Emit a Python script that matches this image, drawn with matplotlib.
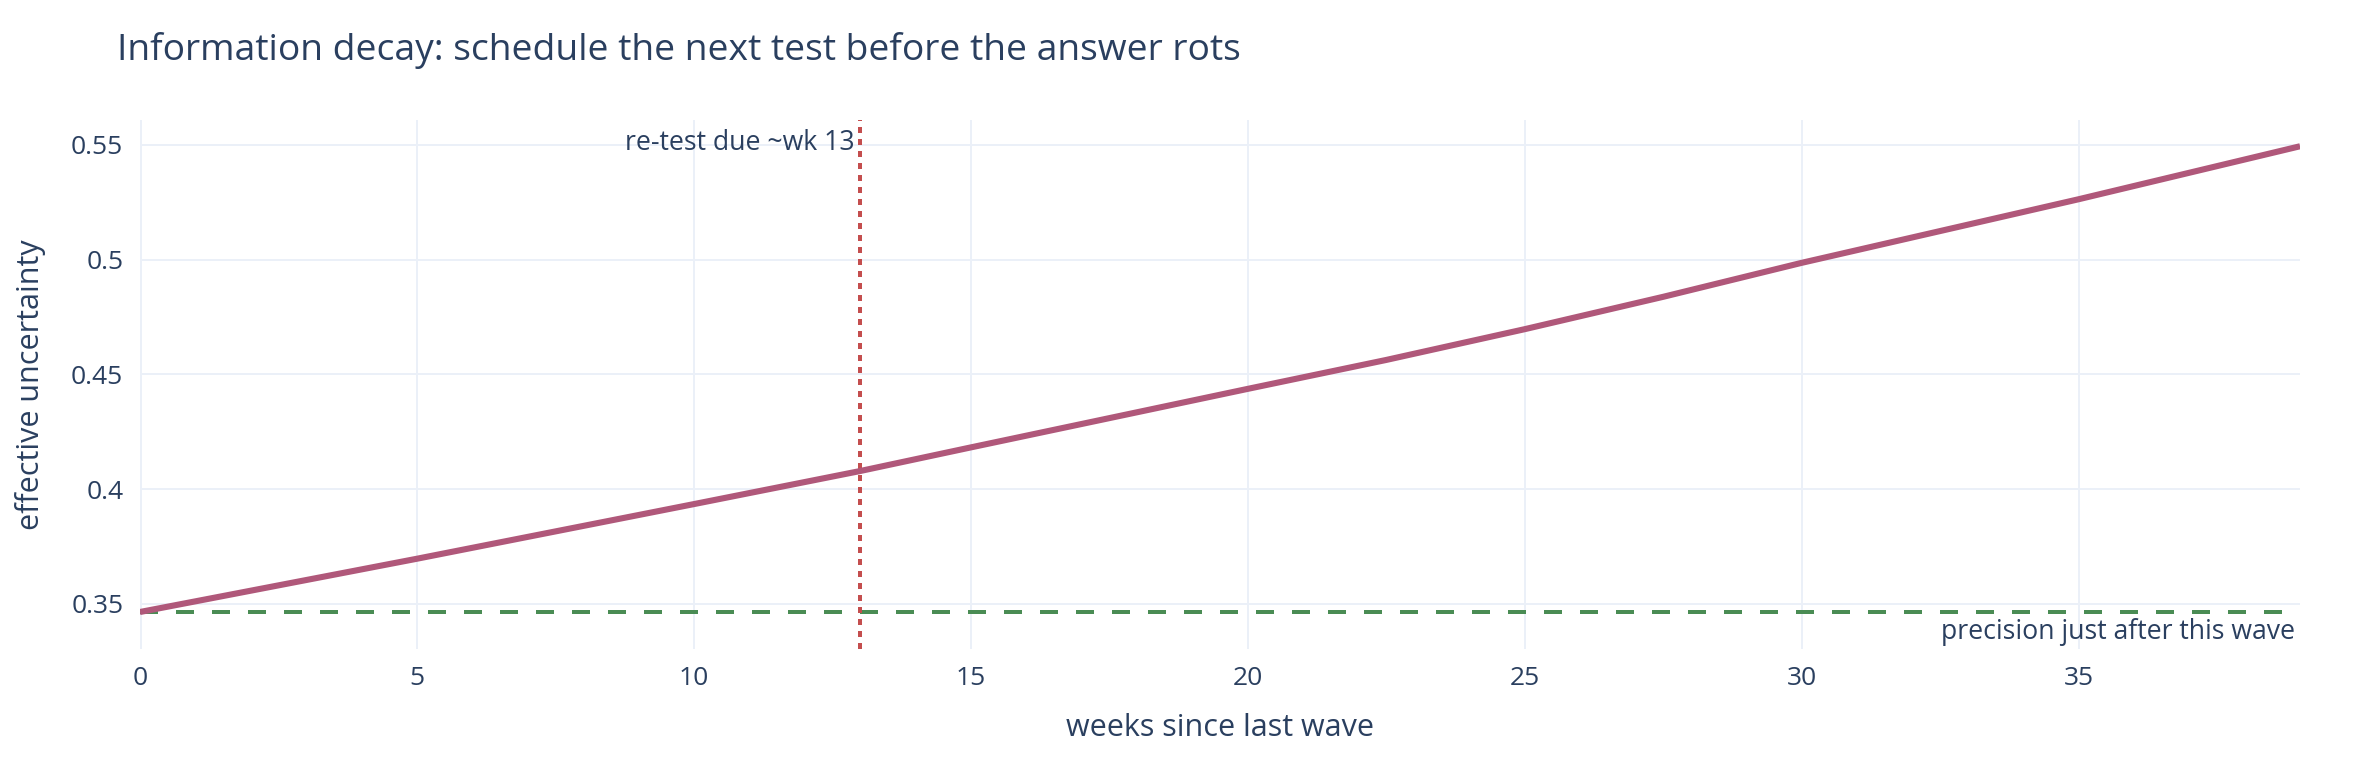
import matplotlib
matplotlib.use("Agg")
import matplotlib.pyplot as plt

# weeks since the last wave and the effective uncertainty
weeks = [0, 5, 10, 13, 15, 20, 22.5, 25, 27.5, 30, 35, 39]
uncertainty = [0.3465, 0.3697, 0.3935, 0.4079, 0.4182, 0.4437, 0.4563, 0.4697, 0.4838, 0.4986, 0.5263, 0.5494]

baseline = 0.3465      # precision just after this wave
retest_week = 13

x_ticks = [0, 5, 10, 15, 20, 25, 30, 35]
y_ticks = [0.35, 0.4, 0.45, 0.5, 0.55]
y_tick_labels = ["0.35", "0.4", "0.45", "0.5", "0.55"]

text_col = "#2a3f5f"
grid_col = "#ebf0f8"

plt.rcParams["font.family"] = ["Open Sans", "DejaVu Sans"]

fig = plt.figure(figsize=(11.8, 3.8), dpi=200)
ax = fig.add_axes([0.0593, 0.1455, 0.9153, 0.6962])

ax.plot(weeks, uncertainty, color="#b0587a", linewidth=2.2, solid_capstyle="butt", zorder=3)
ax.axhline(baseline, color="#4a8c54", linewidth=1.44, dashes=(4.5, 4.5), zorder=2)
ax.axvline(retest_week, color="#c44e4e", linewidth=1.44, dashes=(1.5, 1.5), zorder=2)

ax.annotate("re-test due ~wk 13", xy=(retest_week, 1.0), xycoords=("data", "axes fraction"),
            xytext=(-2, -3), textcoords="offset points", ha="right", va="top",
            fontsize=9.6, color=text_col)
ax.annotate("precision just after this wave", xy=(1.0, baseline), xycoords=("axes fraction", "data"),
            xytext=(-2, -2), textcoords="offset points", ha="right", va="top",
            fontsize=9.6, color=text_col)

ax.set_xlim(0, 39)
ax.set_ylim(0.3302, 0.5607)
ax.set_xticks(x_ticks)
ax.set_yticks(y_ticks)
ax.set_yticklabels(y_tick_labels)
ax.grid(True, color=grid_col, linewidth=0.72, zorder=0)
ax.axvline(0, color=grid_col, linewidth=1.44, zorder=1)
ax.set_axisbelow(True)
for s in ax.spines.values():
    s.set_visible(False)
ax.tick_params(length=0, labelsize=9.5, labelcolor=text_col, pad=6)

ax.set_xlabel("weeks since last wave", fontsize=11, color=text_col, labelpad=8)
ax.set_ylabel("effective uncertainty", fontsize=11, color=text_col, labelpad=9)

fig.text(0.0496, 0.934, "Information decay: schedule the next test before the answer rots",
         fontsize=13.4, color=text_col, va="center", ha="left")

fig.savefig("out.png", dpi=200, facecolor="white")
